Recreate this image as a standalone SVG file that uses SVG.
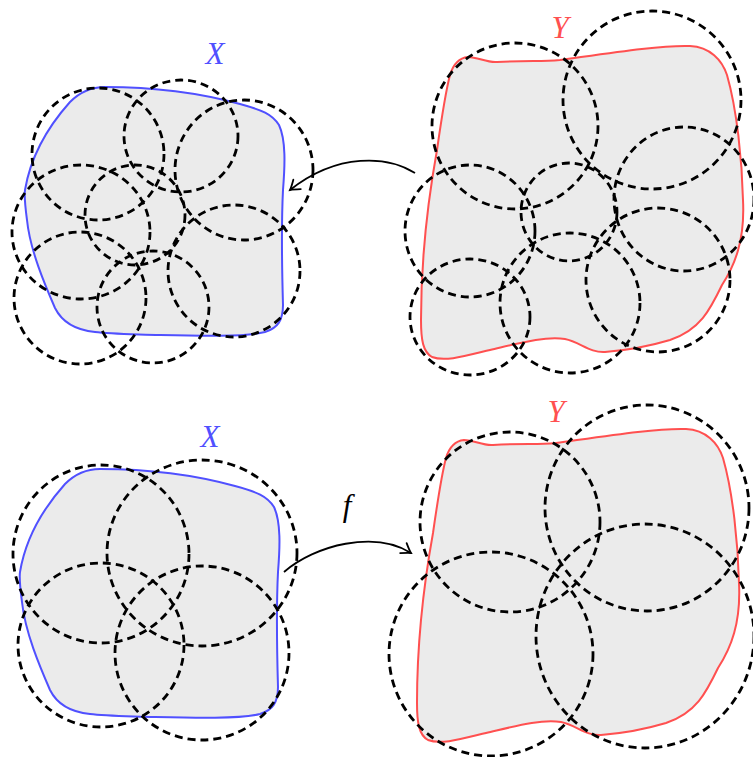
<svg xmlns="http://www.w3.org/2000/svg" xmlns:xlink="http://www.w3.org/1999/xlink" width="753" height="757" viewBox="0 0 753 757">
<style>
.bx{fill:#ebebeb;stroke:#5050ff;stroke-width:2}
.by{fill:#ebebeb;stroke:#ff5050;stroke-width:2}
.d{fill:none;stroke:#000;stroke-width:2.8;stroke-dasharray:8 5}
.lab{font-family:"Liberation Serif",serif;font-style:italic;font-size:31px;text-anchor:middle}
.arr{fill:none;stroke:#000;stroke-width:1.8;marker-end:url(#ah)}
</style>
<defs>
<path id="shapeX" d="M25,190 C30,160 45,130 70,102 C80,92 92,87 105,87 C150,87 200,93 240,104 C262,110 272,114 279,125 C286,140 285,165 283,190 C281,230 282,270 283,305 C283,320 278,328 265,332 C245,337 200,336 160,335 C130,334 110,334 95,332 C75,330 62,322 55,308 C45,285 30,250 27,220 C25,205 24,197 25,190 Z"/>
<path id="shapeY" d="M450,75 C453,65 458,58 468,57 C478,57 487,63 497,62 C530,60 540,62 560,60 C610,53 660,45 690,46 C710,47 722,60 727,75 C737,110 742,160 743,200 C745,240 735,265 722,285 C710,310 700,330 670,340 C650,346 630,350 605,352 C590,353 580,342 565,339 C545,336 520,343 490,350 C465,356 445,362 432,357 C423,352 421,340 421,320 C421,260 428,200 437,150 C442,115 446,90 450,75 Z"/>
<marker id="ah" markerUnits="userSpaceOnUse" markerWidth="20" markerHeight="20" viewBox="-12 -10 20 20" refX="0" refY="0" orient="auto">
<path d="M-9,-6 Q-3,-1.5 0,0 Q-3,1.5 -9,6" fill="none" stroke="#000" stroke-width="1.8" stroke-linecap="round"/>
</marker>
</defs>

<g id="X1">
<use xlink:href="#shapeX" href="#shapeX" class="bx"/>
<ellipse class="d" cx="98" cy="154" rx="66" ry="66"/>
<ellipse class="d" cx="181" cy="136" rx="57" ry="56"/>
<ellipse class="d" cx="244" cy="170" rx="69" ry="70"/>
<ellipse class="d" cx="135" cy="215" rx="50" ry="50"/>
<ellipse class="d" cx="81" cy="232" rx="69" ry="67"/>
<ellipse class="d" cx="80" cy="298" rx="66" ry="66"/>
<ellipse class="d" cx="153" cy="307" rx="56" ry="56"/>
<ellipse class="d" cx="234" cy="271" rx="66" ry="66"/>
<text class="lab" x="215" y="64" fill="#5050ff">X</text>
</g>

<g id="Y1">
<use xlink:href="#shapeY" href="#shapeY" class="by"/>
<ellipse class="d" cx="515" cy="126" rx="83" ry="83"/>
<ellipse class="d" cx="652" cy="100" rx="89" ry="89"/>
<ellipse class="d" cx="470" cy="231" rx="65" ry="66"/>
<ellipse class="d" cx="569" cy="212" rx="48" ry="49"/>
<ellipse class="d" cx="684" cy="199" rx="70" ry="72"/>
<ellipse class="d" cx="470" cy="317" rx="60" ry="58"/>
<ellipse class="d" cx="570" cy="303" rx="70" ry="70"/>
<ellipse class="d" cx="658" cy="280" rx="72" ry="72"/>
<text class="lab" x="560" y="38" fill="#ff5050">Y</text>
</g>

<g id="X2">
<use xlink:href="#shapeX" href="#shapeX" class="bx" transform="translate(-5,382)"/>
<ellipse class="d" cx="101" cy="554" rx="88" ry="89"/>
<ellipse class="d" cx="202" cy="553" rx="95" ry="93"/>
<ellipse class="d" cx="101" cy="645" rx="83" ry="82"/>
<ellipse class="d" cx="202" cy="653" rx="87" ry="87"/>
<text class="lab" x="210" y="447" fill="#5050ff">X</text>
</g>

<g id="Y2">
<use xlink:href="#shapeY" href="#shapeY" class="by" transform="translate(-4,383)"/>
<ellipse class="d" cx="510" cy="522" rx="90" ry="90"/>
<ellipse class="d" cx="647" cy="508" rx="102" ry="103"/>
<ellipse class="d" cx="491" cy="654" rx="102" ry="102"/>
<ellipse class="d" cx="645" cy="636" rx="109" ry="112"/>
<text class="lab" x="556" y="422" fill="#ff5050">Y</text>
</g>

<g id="connectors">
<path class="arr" d="M415,173 C388,156 338,152 290,190"/>
<path class="arr" d="M284,572 C315,545 375,530 411,553"/>
<text class="lab" x="347" y="516" fill="#000">f</text>
</g>
</svg>
